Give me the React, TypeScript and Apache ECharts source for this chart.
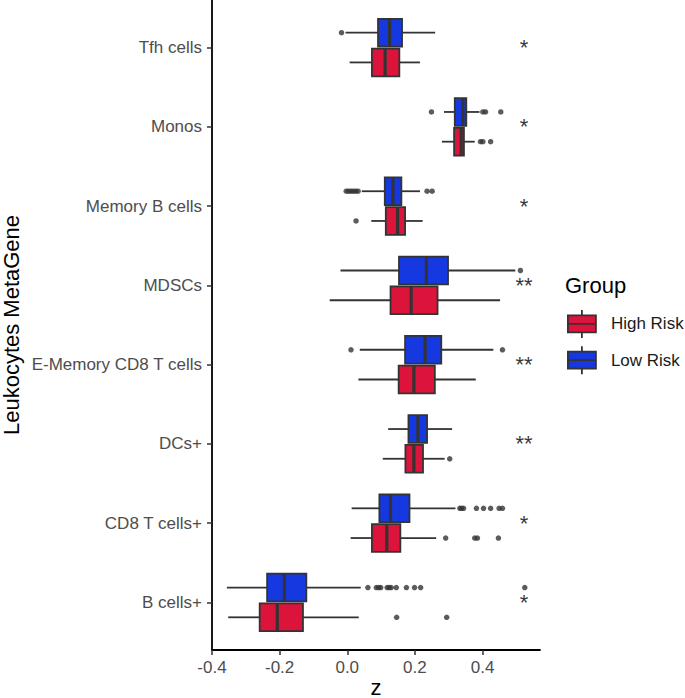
import React, { useEffect, useRef } from 'react';
import * as echarts from 'echarts';

const categories = [
  'Tfh cells',
  'Monos',
  'Memory B cells',
  'MDSCs',
  'E-Memory CD8 T cells',
  'DCs+',
  'CD8 T cells+',
  'B cells+',
];
const groupNames = ['High Risk', 'Low Risk'];
const xTicks = [-0.4, -0.2, 0.0, 0.2, 0.4];
const significance = ['*', '*', '*', '**', '**', '**', '*', '*'];

// [lower whisker, Q1, median, Q3, upper whisker]
const highRiskBox = [
  [0.007, 0.073, 0.112, 0.154, 0.215],
  [0.28, 0.316, 0.337, 0.345, 0.377],
  [0.071, 0.114, 0.149, 0.171, 0.223],
  [-0.052, 0.128, 0.189, 0.267, 0.452],
  [0.033, 0.152, 0.197, 0.259, 0.38],
  [0.105, 0.172, 0.197, 0.224, 0.288],
  [0.01, 0.073, 0.117, 0.157, 0.263],
  [-0.352, -0.259, -0.207, -0.131, 0.034],
];
const lowRiskBox = [
  [-0.005, 0.091, 0.125, 0.162, 0.26],
  [0.286, 0.318, 0.342, 0.352, 0.391],
  [0.043, 0.111, 0.135, 0.16, 0.215],
  [-0.02, 0.153, 0.234, 0.298, 0.497],
  [0.037, 0.171, 0.23, 0.278, 0.432],
  [0.121, 0.181, 0.209, 0.236, 0.31],
  [0.013, 0.095, 0.128, 0.184, 0.32],
  [-0.356, -0.237, -0.186, -0.121, 0.04],
];
const highRiskOutliers = [
  [],
  [0.394, 0.401, 0.424],
  [0.026],
  [],
  [],
  [0.303],
  [0.291, 0.377, 0.385, 0.447],
  [0.146, 0.294],
];
const lowRiskOutliers = [
  [-0.017],
  [0.249, 0.401, 0.409, 0.454],
  [-0.003, 0.004, 0.011, 0.018, 0.025, 0.032, 0.236, 0.251],
  [0.512],
  [0.011, 0.459],
  [],
  [0.333, 0.338, 0.344, 0.382, 0.403, 0.424, 0.449, 0.459],
  [0.061, 0.086, 0.093, 0.099, 0.118, 0.124, 0.13, 0.145, 0.175, 0.199, 0.217, 0.525],
];

const RED = '#DC143C';
const BLUE = '#1538E0';
const EDGE = '#333333';
const DODGE = 0.1875;
const BOX_HALF = 0.175;
const SIG_X = 0.5225;
const FONT = '"Liberation Sans", Arial, Helvetica, sans-serif';

function boxSeries(name: string, boxes: number[][], color: string, offset: number) {
  return {
    name,
    type: 'custom',
    itemStyle: { color, borderColor: EDGE, borderWidth: 1.8 },
    encode: { x: [1, 2, 3, 4, 5], y: 0 },
    data: boxes.map((b, i) => [i, ...b]),
    renderItem: (params: any, api: any) => {
      const y = api.value(0) + offset;
      const lo = api.coord([api.value(1), y]);
      const q1 = api.coord([api.value(2), y]);
      const md = api.coord([api.value(3), y]);
      const q3 = api.coord([api.value(4), y]);
      const hi = api.coord([api.value(5), y]);
      const half = Math.abs(api.size([0, 1])[1]) * BOX_HALF;
      const lineStyle = { stroke: EDGE, lineWidth: 1.8 };
      return {
        type: 'group',
        children: [
          { type: 'line', shape: { x1: lo[0], y1: lo[1], x2: q1[0], y2: q1[1] }, style: lineStyle },
          { type: 'line', shape: { x1: q3[0], y1: q3[1], x2: hi[0], y2: hi[1] }, style: lineStyle },
          {
            type: 'rect',
            shape: { x: q1[0], y: q1[1] - half, width: q3[0] - q1[0], height: 2 * half },
            style: { fill: color, stroke: EDGE, lineWidth: 1.8 },
          },
          {
            type: 'line',
            shape: { x1: md[0], y1: md[1] - half, x2: md[0], y2: md[1] + half },
            style: { stroke: EDGE, lineWidth: 3.2 },
          },
        ],
      };
    },
  };
}

function outlierSeries(name: string, outliers: number[][], offset: number) {
  const data: number[][] = [];
  outliers.forEach((vals, i) => vals.forEach((v) => data.push([v, i + offset])));
  return {
    name,
    type: 'scatter',
    symbol: 'circle',
    symbolSize: 5.5,
    itemStyle: { color: EDGE },
    data,
    z: 5,
  };
}

const LEGEND_ICON = 'path://M14,0V5.5M0,5.5H28V22.5H0ZM0,14H28M14,22.5V28';

export default function App() {
  const ref = useRef<HTMLDivElement>(null);
  useEffect(() => {
    if (!ref.current) return;
    const chart = echarts.init(ref.current, undefined, { renderer: 'svg' });
    chart.setOption({
      animation: false,
      backgroundColor: '#ffffff',
      textStyle: { fontFamily: FONT },
      grid: {
        left: 212,
        right: 145,
        top: 0,
        bottom: 48,
        containLabel: false,
        outerBoundsMode: 'none',
      },
      xAxis: {
        type: 'value',
        min: -0.4,
        max: 0.57,
        name: 'z',
        nameLocation: 'middle',
        nameGap: 26,
        nameMoveOverlap: false,
        nameTextStyle: { fontSize: 22, color: '#000', fontFamily: FONT },
        axisLine: { onZero: false, lineStyle: { color: '#000', width: 1.8 } },
        axisTick: { show: true, length: 5, customValues: xTicks, lineStyle: { color: EDGE, width: 1.5 } },
        axisLabel: {
          customValues: xTicks,
          formatter: (v: number) => v.toFixed(1),
          fontSize: 17,
          color: '#4D4D4D',
          margin: 9,
          fontFamily: FONT,
        },
        splitLine: { show: false },
      },
      yAxis: {
        type: 'value',
        min: -0.6,
        max: 7.6,
        inverse: true,
        name: 'Leukocytes MetaGene',
        nameLocation: 'middle',
        nameGap: 190,
        nameRotate: 90,
        nameTextStyle: { fontSize: 22, color: '#000', fontFamily: FONT },
        axisLine: { onZero: false, lineStyle: { color: '#000', width: 1.8 } },
        axisTick: {
          show: true,
          length: 5,
          customValues: categories.map((_, i) => i),
          lineStyle: { color: EDGE, width: 1.5 },
        },
        axisLabel: {
          customValues: categories.map((_, i) => i),
          formatter: (v: number) => categories[Math.round(v)] ?? '',
          fontSize: 17,
          color: '#4D4D4D',
          margin: 10,
          fontFamily: FONT,
        },
        splitLine: { show: false },
      },
      legend: {
        orient: 'vertical',
        left: 567,
        top: 309,
        padding: 0,
        itemWidth: 28,
        itemHeight: 28,
        itemGap: 6.5,
        icon: LEGEND_ICON,
        textStyle: { fontSize: 17, color: '#1A1A1A', fontFamily: FONT, padding: [0, 0, 0, 10] },
        data: [
          { name: groupNames[0], itemStyle: { color: RED, borderColor: EDGE, borderWidth: 1.8 } },
          { name: groupNames[1], itemStyle: { color: BLUE, borderColor: EDGE, borderWidth: 1.8 } },
        ],
        selectedMode: false,
      },
      graphic: [
        {
          type: 'text',
          left: 565,
          top: 274,
          style: { text: 'Group', fontSize: 22, fill: '#000', fontFamily: FONT },
        },
      ],
      series: [
        boxSeries(groupNames[0], highRiskBox, RED, DODGE),
        boxSeries(groupNames[1], lowRiskBox, BLUE, -DODGE),
        outlierSeries('High Risk outliers', highRiskOutliers, DODGE),
        outlierSeries('Low Risk outliers', lowRiskOutliers, -DODGE),
        {
          name: 'significance',
          type: 'scatter',
          symbolSize: 0,
          data: significance.map((_, i) => [SIG_X, i]),
          label: {
            show: true,
            position: 'inside',
            formatter: (p: any) => significance[p.dataIndex],
            fontSize: 22,
            color: '#000',
            fontFamily: FONT,
          },
          z: 6,
        },
      ],
    });
    return () => chart.dispose();
  }, []);
  return (
    <div
      ref={ref}
      style={{ position: 'fixed', left: 0, top: 0, width: 685, height: 698, background: '#fff' }}
    />
  );
}
